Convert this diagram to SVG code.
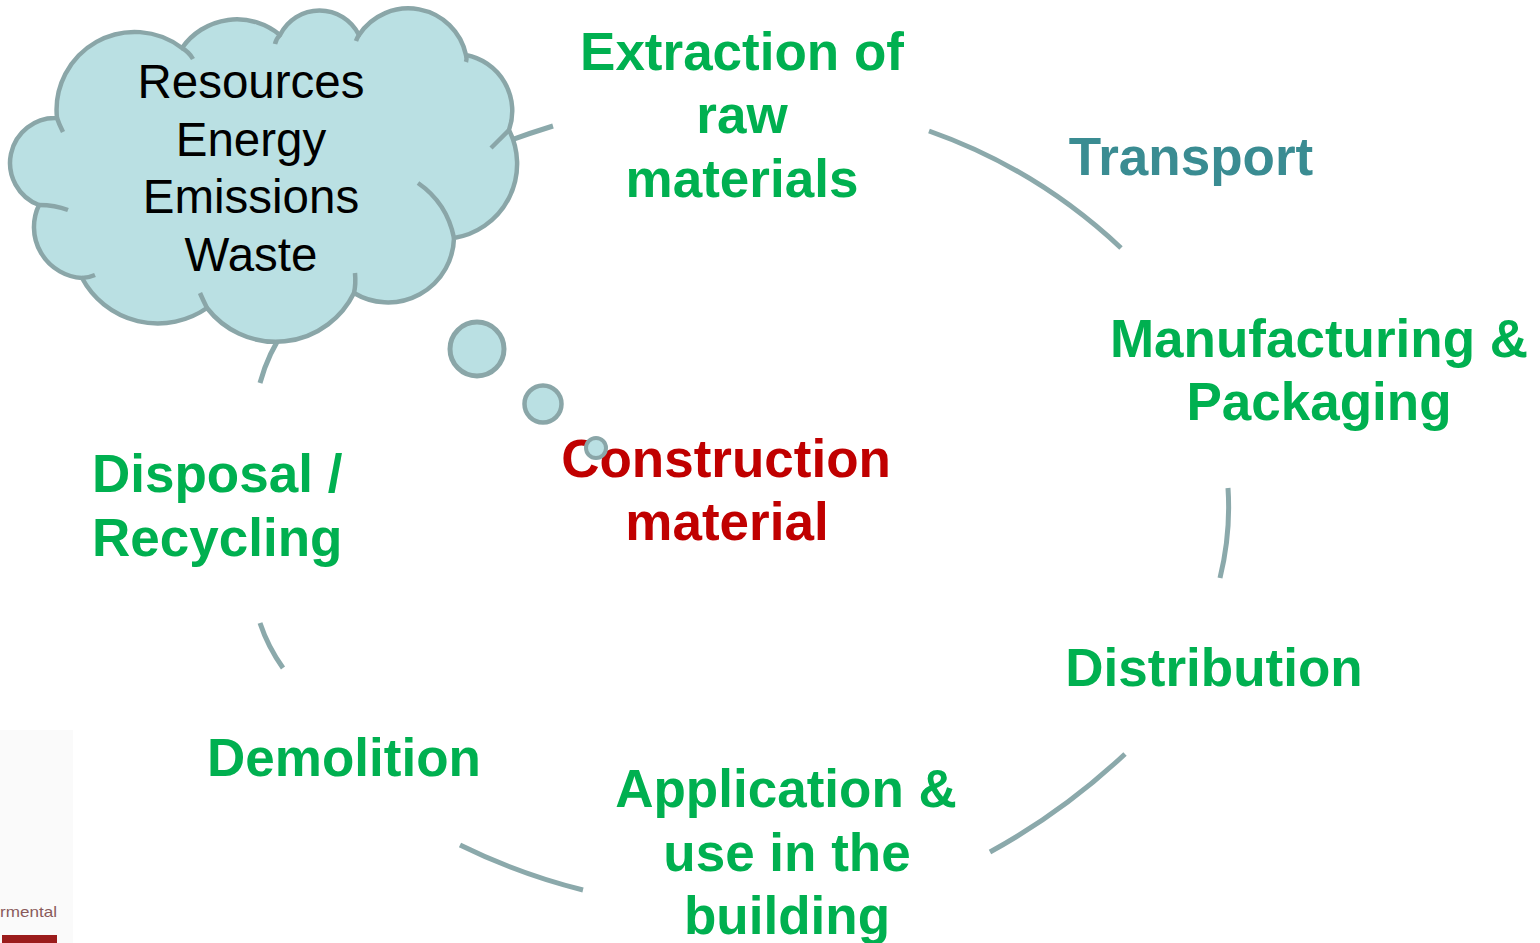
<svg xmlns="http://www.w3.org/2000/svg" width="1540" height="943" viewBox="0 0 1540 943">
<defs>
<style>
.conn{fill:none;stroke:#8BA9AB;stroke-width:5;stroke-linecap:butt}
.cloud{fill:#BAE0E3;stroke:#8AA6A8;stroke-width:4.5;stroke-linejoin:round}
.fold{fill:none;stroke:#8AA6A8;stroke-width:4.5;stroke-linecap:butt}
.bub{fill:#BAE0E3;stroke:#8AA6A8}
.ct{font-family:"Liberation Sans",Arial,sans-serif;font-size:47.5px;fill:#000;text-anchor:middle}
.g{font-family:"Liberation Sans",Arial,sans-serif;font-size:53px;font-weight:bold;fill:#00B050;text-anchor:middle}
.t{fill:#3A8C92}
.r{fill:#C00000}
</style>
</defs>
<rect width="1540" height="943" fill="#FFFFFF"/>
<g id="corner">
<rect x="0" y="730" width="73" height="213" fill="#FAFAFA"/>
<text x="0" y="917" font-family="Liberation Sans,Arial,sans-serif" font-size="15" fill="#8A5A5A" textLength="57" lengthAdjust="spacingAndGlyphs">rmental</text>
<rect x="2" y="935" width="55" height="8" fill="#9B1C1C"/>
</g>
<g id="connectors">
<path class="conn" d="M500,144 Q527,134 553,126"/>
<path class="conn" d="M929,131 Q1037,169 1121,248"/>
<path class="conn" d="M1228,488 Q1231,533 1220,578"/>
<path class="conn" d="M1125,754 Q1063,812 990,852"/>
<path class="conn" d="M460,845 Q519,874 583,890"/>
<path class="conn" d="M260,623 Q268,647 283,668"/>
<path class="conn" d="M260,383 Q268,353 286,328"/>
</g>
<g id="cloud">
<path class="cloud" d="M57,118 A78,78 0 0 1 182,48 A67,67 0 0 1 280,35 A44,44 0 0 1 359,35 A59,59 0 0 1 466,55 A57,57 0 0 1 509,130 A75,75 0 0 1 454,238 A66,66 0 0 1 354,293 A87,87 0 0 1 207,308 A86,86 0 0 1 82,278 A51,51 0 0 1 39,205 A45,45 0 0 1 57,118 Z"/>
<path class="fold" d="M182,48 Q189,52 193,59"/>
<path class="fold" d="M275,44 Q276,39 280,35"/>
<path class="fold" d="M356,41 Q357,38 359,35"/>
<path class="fold" d="M466,55 Q467,59 466,62"/>
<path class="fold" d="M509,130 Q501,138 491,148"/>
<path class="fold" d="M418,183 Q447,203 454,238"/>
<path class="fold" d="M355,273 Q356,284 354,293"/>
<path class="fold" d="M207,308 Q203,300 200,293"/>
<path class="fold" d="M95,275 Q88,278 82,278"/>
<path class="fold" d="M39,205 Q55,205 68,210"/>
<path class="fold" d="M63,132 Q59,124 57,118"/>
<text class="ct" x="251" y="98">Resources</text>
<text class="ct" x="251" y="156">Energy</text>
<text class="ct" x="251" y="213">Emissions</text>
<text class="ct" x="251" y="271">Waste</text>
</g>
<g id="extraction">
<text class="g" x="742" y="70">Extraction of</text>
<text class="g" x="742" y="133">raw</text>
<text class="g" x="742" y="197">materials</text>
</g>
<g id="transport">
<text class="g t" x="1191" y="175">Transport</text>
</g>
<g id="manufacturing">
<text class="g" x="1319" y="357">Manufacturing &amp;</text>
<text class="g" x="1319" y="420">Packaging</text>
</g>
<g id="distribution">
<text class="g" x="1214" y="686">Distribution</text>
</g>
<g id="application">
<text class="g" x="786" y="807">Application &amp;</text>
<text class="g" x="787" y="871">use in the</text>
<text class="g" x="787" y="934">building</text>
</g>
<g id="demolition">
<text class="g" x="344" y="776">Demolition</text>
</g>
<g id="disposal">
<text class="g" x="92" y="492" style="text-anchor:start">Disposal /</text>
<text class="g" x="92" y="556" style="text-anchor:start">Recycling</text>
</g>
<g id="construction">
<text class="g r" x="726" y="477">Construction</text>
<text class="g r" x="727" y="540">material</text>
</g>
<g id="bubbles">
<circle class="bub" cx="477" cy="349" r="27" stroke-width="5"/>
<circle class="bub" cx="543" cy="404" r="18.5" stroke-width="4.5"/>
<circle class="bub" cx="596" cy="448" r="10" stroke-width="4"/>
</g>
</svg>
